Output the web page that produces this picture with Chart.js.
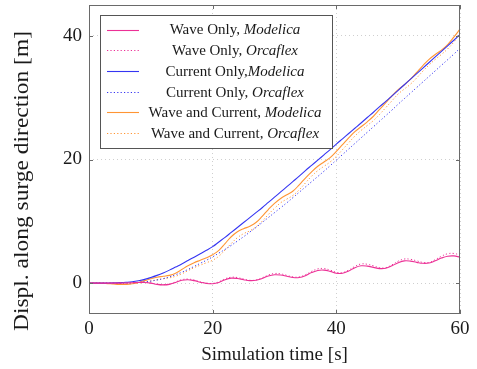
<!DOCTYPE html>
<html>
<head>
<meta charset="utf-8">
<script src="https://cdn.jsdelivr.net/npm/chart.js@4.4.1/dist/chart.umd.min.js"></script>
<style>
  html, body { margin: 0; padding: 0; background: #fff; }
</style>
</head>
<body>
<canvas id="chart" width="477" height="369"></canvas>
<script>
// time axis [s]
const time = [0, 1, 2, 3, 4, 5, 6, 7, 8, 9, 10, 11, 12, 13, 14, 15, 16, 17, 18, 19, 20,
  21, 22, 23, 24, 25, 26, 27, 28, 29, 30, 31, 32, 33, 34, 35, 36, 37, 38, 39, 40,
  41, 42, 43, 44, 45, 46, 47, 48, 49, 50, 51, 52, 53, 54, 55, 56, 57, 58, 59, 60];

// surge displacement [m]
const waveModelica = [0, 0, 0, 0, 0, 0, 0.02, 0.05, 0.1, 0.1, 0,
  -0.2, -0.28, -0.2, 0.1, 0.45, 0.55, 0.4, 0.15, -0.05, -0.1,
  0.1, 0.55, 0.8, 0.75, 0.55, 0.4, 0.45, 0.75, 1.15, 1.35,
  1.3, 1.1, 0.9, 0.9, 1.2, 1.7, 2.05, 2.1, 1.9, 1.6,
  1.6, 1.95, 2.5, 2.8, 2.75, 2.55, 2.35, 2.4, 2.8, 3.3,
  3.6, 3.55, 3.35, 3.2, 3.25, 3.6, 4.05, 4.35, 4.4, 4.2];
const waveOrcaflex = [0, 0, 0, 0, 0, 0, 0.02, 0.06, 0.12, 0.12, 0.02,
  -0.18, -0.25, -0.15, 0.18, 0.55, 0.65, 0.5, 0.2, 0, -0.05,
  0.2, 0.7, 0.95, 0.9, 0.65, 0.45, 0.5, 0.85, 1.3, 1.55,
  1.5, 1.25, 1.0, 1.0, 1.35, 1.9, 2.3, 2.35, 2.1, 1.75,
  1.7, 2.1, 2.7, 3.1, 3.05, 2.8, 2.5, 2.5, 2.95, 3.55,
  3.9, 3.85, 3.6, 3.35, 3.35, 3.8, 4.35, 4.75, 4.8, 4.55];
const currentModelica = [0, 0, 0, 0.01, 0.03, 0.07, 0.13, 0.22, 0.38, 0.6, 0.9,
  1.25, 1.65, 2.1, 2.6, 3.1, 3.65, 4.2, 4.75, 5.3, 5.9,
  6.65, 7.4, 8.2, 9.0, 9.8, 10.6, 11.4, 12.2, 13.05, 13.9,
  14.75, 15.6, 16.45, 17.3, 18.2, 19.05, 19.9, 20.75, 21.6, 22.5,
  23.35, 24.2, 25.05, 25.9, 26.8, 27.65, 28.55, 29.4, 30.3, 31.2,
  32.1, 33.0, 33.9, 34.8, 35.7, 36.6, 37.5, 38.4, 39.3, 40.2];
const currentOrcaflex = [0, 0, 0, 0, 0, 0.01, 0.03, 0.06, 0.12, 0.2, 0.32,
  0.5, 0.72, 1.0, 1.35, 1.75, 2.2, 2.7, 3.2, 3.7, 4.25,
  4.85, 5.45, 6.1, 6.8, 7.5, 8.25, 9.0, 9.8, 10.6, 11.4,
  12.2, 13.0, 13.85, 14.7, 15.55, 16.4, 17.25, 18.1, 19.0, 19.9,
  20.8, 21.7, 22.6, 23.5, 24.4, 25.3, 26.2, 27.1, 28.0, 28.95,
  29.85, 30.75, 31.65, 32.55, 33.45, 34.35, 35.25, 36.15, 37.05, 38.0];
const bothModelica = [0, 0, -0.02, -0.08, -0.15, -0.2, -0.2, -0.1, 0.1, 0.4, 0.7,
  0.95, 1.1, 1.25, 1.6, 2.2, 2.8, 3.3, 3.7, 4.1, 4.6,
  5.3, 6.4, 7.5, 8.3, 8.8, 9.2, 9.8, 10.8, 11.9, 12.9,
  13.7, 14.3, 14.9, 15.9, 17.0, 18.0, 18.9, 19.6, 20.3, 21.3,
  22.4, 23.5, 24.5, 25.3, 26.1, 27.0, 28.1, 29.2, 30.3, 31.3,
  32.1, 33.0, 34.1, 35.2, 36.2, 37.0, 37.7, 38.6, 39.8, 41.1];
const bothOrcaflex = [0, 0, 0, -0.03, -0.08, -0.12, -0.14, -0.1, 0, 0.15, 0.35,
  0.55, 0.7, 0.85, 1.1, 1.5, 2.0, 2.5, 2.9, 3.3, 3.7,
  4.35, 5.35, 6.4, 7.35, 8.0, 8.45, 9.1, 10.0, 11.1, 12.1,
  13.0, 13.6, 14.2, 15.1, 16.2, 17.3, 18.2, 18.9, 19.6, 20.5,
  21.6, 22.7, 23.8, 24.7, 25.5, 26.3, 27.3, 28.4, 29.5, 30.6,
  31.4, 32.2, 33.2, 34.3, 35.3, 36.2, 37.0, 37.9, 39.0, 40.4];

const xTicks = [0, 20, 40, 60];
const yTicks = [0, 20, 40];

// legend entries: plain part + italic part
const legendPlain = ['Wave Only, ', 'Wave Only, ', 'Current Only,', 'Current Only, ', 'Wave and Current, ', 'Wave and Current, '];
const legendItalic = ['Modelica', 'Orcaflex', 'Modelica', 'Orcaflex', 'Modelica', 'Orcaflex'];

const SERIF = '"Liberation Serif", "DejaVu Serif", serif';
const PINK = '#ec3096';
const BLUE = '#3535f2';
const ORANGE = '#ff9534';
const DOT = [1.2, 2.2];

const series = [waveModelica, waveOrcaflex, currentModelica, currentOrcaflex, bothModelica, bothOrcaflex];
const colors = [PINK, PINK, BLUE, BLUE, ORANGE, ORANGE];
const dashed = [false, true, false, true, false, true];

const datasets = series.map((vals, i) => ({
  label: legendPlain[i] + legendItalic[i],
  data: time.map((t, k) => ({x: t, y: vals[k]})),
  borderColor: colors[i],
  borderWidth: dashed[i] ? 1 : 1.1,
  borderDash: dashed[i] ? DOT : [],
  pointRadius: 0,
  tension: 0.4,
  fill: false
}));

const framePlugin = {
  id: 'frame',
  afterDatasetsDraw(chart) {
    const {ctx, chartArea: a, scales} = chart;
    ctx.save();
    ctx.strokeStyle = '#6a6a6a';
    ctx.lineWidth = 1;
    ctx.setLineDash([]);
    ctx.strokeRect(a.left + 0.5, a.top + 0.5, a.right - a.left - 1, a.bottom - a.top - 1);
    // inward tick marks
    ctx.beginPath();
    xTicks.forEach(v => {
      const px = Math.round(scales.x.getPixelForValue(v)) + 0.5;
      ctx.moveTo(px, a.bottom); ctx.lineTo(px, a.bottom - 4);
      ctx.moveTo(px, a.top); ctx.lineTo(px, a.top + 4);
    });
    yTicks.forEach(v => {
      const py = Math.round(scales.y.getPixelForValue(v)) + 0.5;
      ctx.moveTo(a.left, py); ctx.lineTo(a.left + 4, py);
      ctx.moveTo(a.right, py); ctx.lineTo(a.right - 4, py);
    });
    ctx.stroke();

    // legend box
    const bx = 100, by = 15, bw = 232, bh = 133;
    ctx.fillStyle = '#fff';
    ctx.fillRect(bx, by, bw, bh);
    ctx.strokeStyle = '#555';
    ctx.strokeRect(bx + 0.5, by + 0.5, bw, bh);
    const rowH = 20.7;
    for (let i = 0; i < legendPlain.length; i++) {
      const cy = by + 14.5 + i * rowH;
      ctx.beginPath();
      ctx.strokeStyle = colors[i];
      ctx.lineWidth = 1.1;
      ctx.setLineDash(dashed[i] ? DOT : []);
      ctx.moveTo(107, Math.round(cy) + 0.5);
      ctx.lineTo(139, Math.round(cy) + 0.5);
      ctx.stroke();
      ctx.setLineDash([]);
      const plainFont = '15px ' + SERIF;
      const italFont = 'italic 15px ' + SERIF;
      ctx.font = plainFont;
      const w1 = ctx.measureText(legendPlain[i]).width;
      ctx.font = italFont;
      const w2 = ctx.measureText(legendItalic[i]).width;
      const x0 = 235 - (w1 + w2) / 2;
      ctx.fillStyle = '#1a1a1a';
      ctx.textBaseline = 'middle';
      ctx.textAlign = 'left';
      ctx.font = plainFont;
      ctx.fillText(legendPlain[i], x0, cy + 1);
      ctx.font = italFont;
      ctx.fillText(legendItalic[i], x0 + w1, cy + 1);
    }

    // y axis title, stretched a little as in the source figure
    const yTitle = 'Displ. along surge direction [m]';
    ctx.font = '19px ' + SERIF;
    const tw = ctx.measureText(yTitle).width;
    ctx.translate(23, 181);
    ctx.rotate(-Math.PI / 2);
    ctx.scale(300 / tw, 1.05);
    ctx.fillStyle = '#1a1a1a';
    ctx.textAlign = 'center';
    ctx.textBaseline = 'middle';
    ctx.fillText(yTitle, 0, 0);
    ctx.restore();
  }
};

new Chart(document.getElementById('chart'), {
  type: 'line',
  data: {datasets},
  options: {
    responsive: false,
    animation: false,
    devicePixelRatio: 1,
    layout: {padding: {top: 5, right: 17, left: 0, bottom: 0}},
    plugins: {legend: {display: false}, tooltip: {enabled: false}},
    scales: {
      x: {
        type: 'linear',
        min: 0,
        max: 60,
        afterBuildTicks: s => { s.ticks = xTicks.map(v => ({value: v})); },
        afterFit: s => { s.height = 55; s.paddingLeft = 0; s.paddingRight = 0; },
        ticks: {color: '#1a1a1a', font: {family: SERIF, size: 19}, padding: 4, maxRotation: 0},
        grid: {color: '#cfcfcf', drawTicks: false, lineWidth: 1},
        border: {display: false, dash: [1, 3]},
        title: {display: true, text: 'Simulation time [s]', color: '#1a1a1a',
          font: {family: SERIF, size: 19}, padding: {top: 0, bottom: 3}}
      },
      y: {
        min: -5,
        max: 45,
        afterBuildTicks: s => { s.ticks = yTicks.map(v => ({value: v})); },
        afterFit: s => { s.width = 89; s.paddingTop = 0; s.paddingBottom = 0; },
        ticks: {color: '#1a1a1a', font: {family: SERIF, size: 19}, padding: 7},
        grid: {color: '#cfcfcf', drawTicks: false, lineWidth: 1},
        border: {display: false, dash: [1, 3]}
      }
    }
  },
  plugins: [framePlugin]
});
</script>
</body>
</html>
